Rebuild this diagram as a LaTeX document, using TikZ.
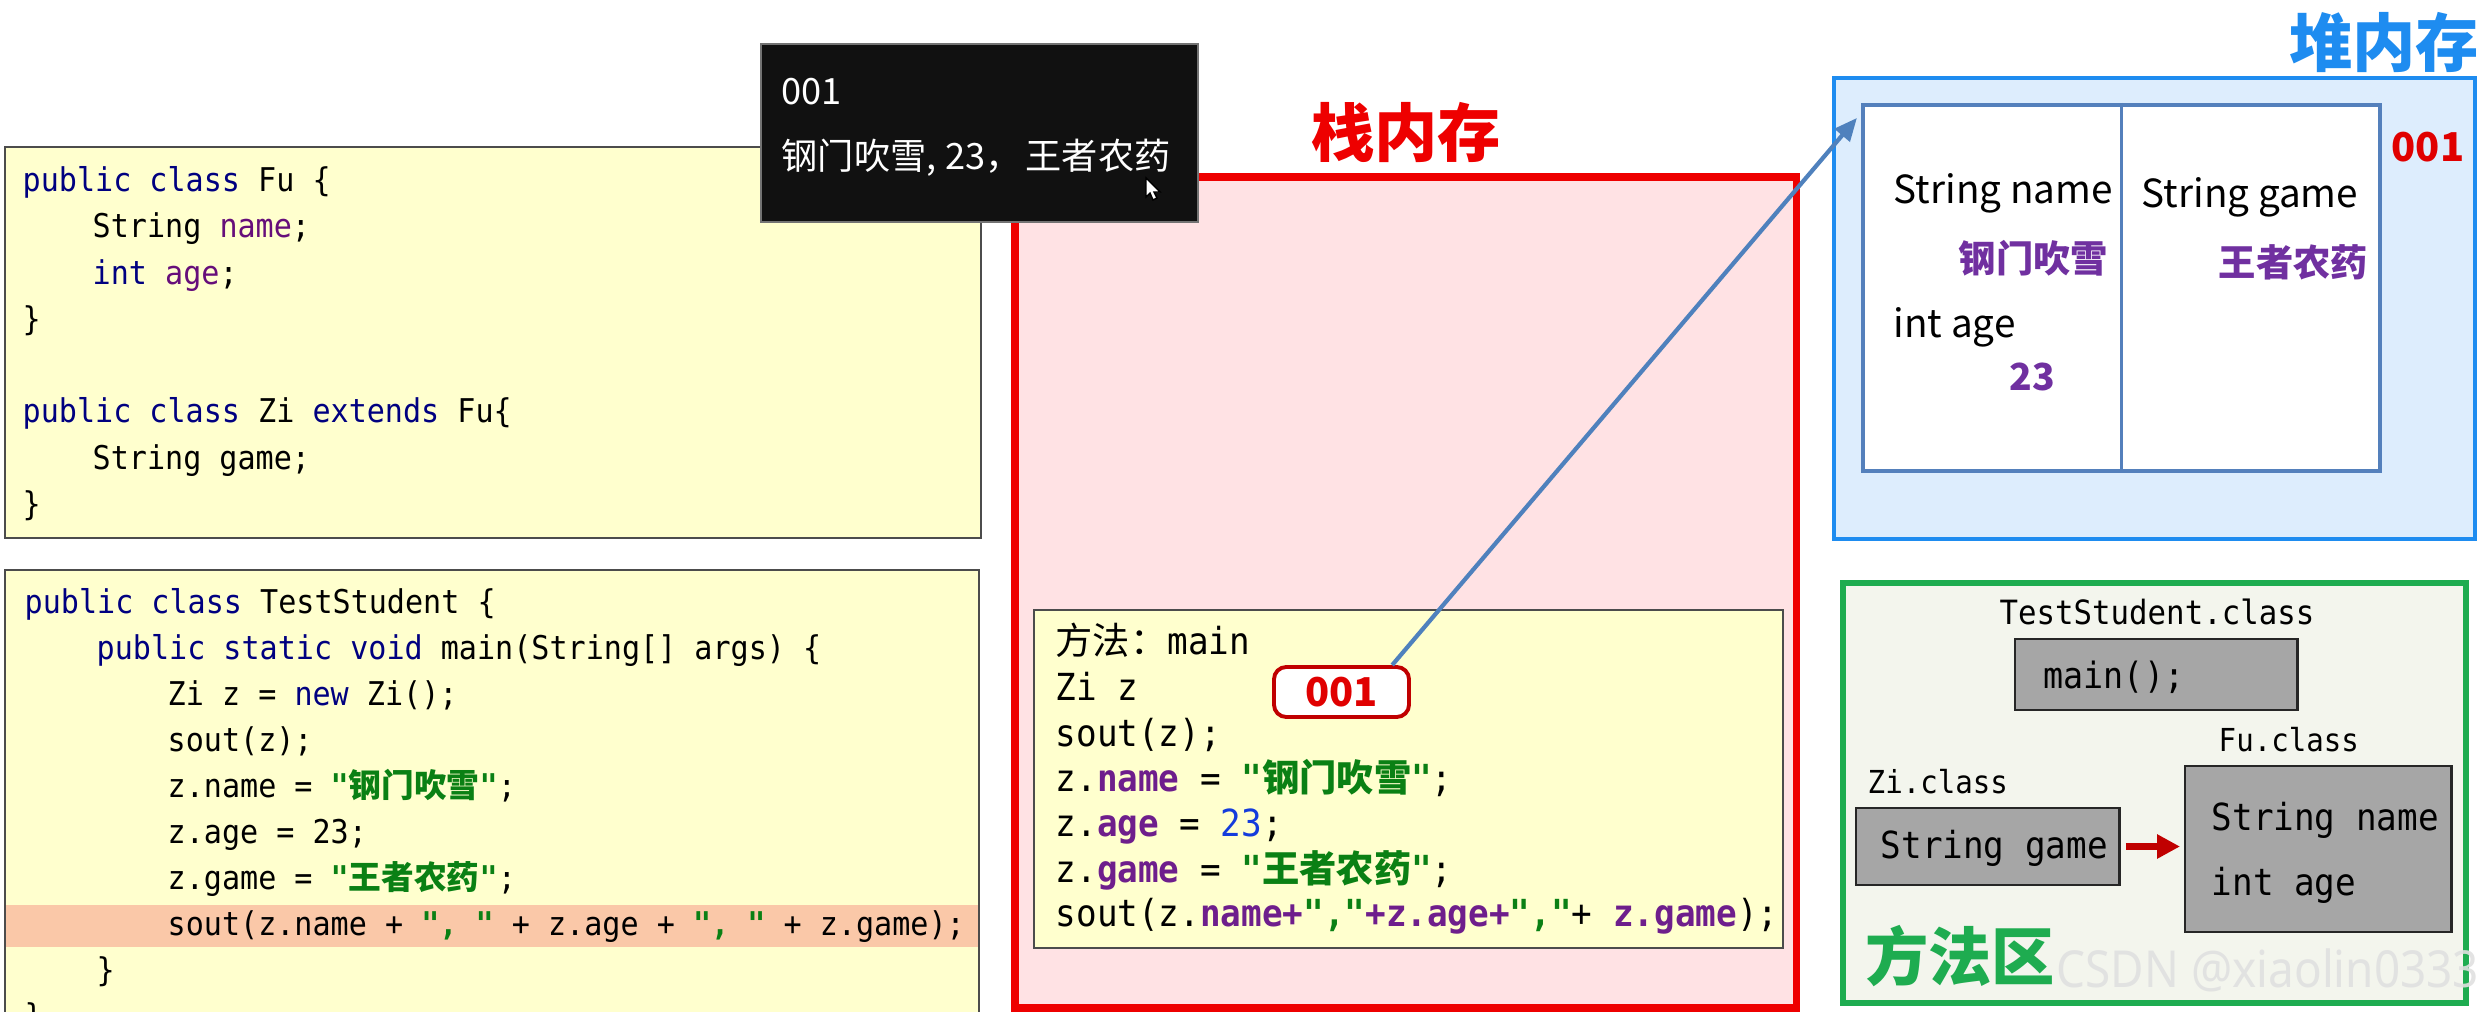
\documentclass[tikz,border=0pt]{standalone}
\usepackage{fontspec}
\usepackage{tikz}
\usetikzlibrary{arrows.meta}
\usetikzlibrary{positioning}
\newfontfamily\cjk{Noto Sans CJK SC}
\newfontfamily\codefont[FakeStretch=0.92]{DejaVu Sans Mono}
\newfontfamily\wmfont[FakeStretch=0.9]{Noto Sans}
\definecolor{codebg}{RGB}{255,255,206}
\definecolor{hlorange}{RGB}{250,200,168}
\definecolor{kwblue}{RGB}{0,0,128}
\definecolor{fldpurple}{RGB}{102,14,122}
\definecolor{fldbright}{RGB}{110,30,140}
\definecolor{strgreen}{RGB}{10,128,20}
\definecolor{numblue}{RGB}{20,60,220}
\definecolor{stackred}{RGB}{238,0,0}
\definecolor{stackbg}{RGB}{255,226,228}
\definecolor{heapblue}{RGB}{30,140,240}
\definecolor{heapbg}{RGB}{221,237,253}
\definecolor{objblue}{RGB}{84,128,188}
\definecolor{refblue}{RGB}{79,129,189}
\definecolor{methgreen}{RGB}{30,172,80}
\definecolor{methbg}{RGB}{243,245,237}
\definecolor{valpurple}{RGB}{112,48,160}
\definecolor{addrred}{RGB}{224,0,0}
\definecolor{arrowred}{RGB}{192,0,0}
\definecolor{boxgray}{RGB}{166,166,166}
\definecolor{tipblack}{RGB}{17,17,17}
\newcommand\jkw[1]{\textcolor{kwblue}{#1}}
\newcommand\jfld[1]{\textcolor{fldpurple}{#1}}
\newcommand\jfldb[1]{\textcolor{fldbright}{\bfseries #1}}
\newcommand\jstr[1]{\textcolor{strgreen}{\bfseries #1}}
\newcommand\jnum[1]{\textcolor{numblue}{#1}}
\tikzset{codeline/.style = {anchor=base west, inner sep=0,
                            font=\codefont\fontsize{9.3}{11}\selectfont}}
\tikzset{stackcode/.style = {anchor=base west, inner sep=0,
                             font=\codefont\fontsize{10.6}{12}\selectfont}}
\tikzset{codebox/.style = {fill=codebg, draw=black!70, line width=0.8pt}}
\tikzset{memtitle/.style = {inner sep=0, font=\cjk\bfseries\fontsize{18}{20}\selectfont}}
\tikzset{stackmem/.style = {fill=stackbg, draw=stackred, line width=2pt}}
\tikzset{heapmem/.style = {fill=heapbg, draw=heapblue, line width=1.4pt}}
\tikzset{methmem/.style = {fill=methbg, draw=methgreen, line width=1.5pt}}
\tikzset{objbox/.style = {fill=white, draw=objblue, line width=1.1pt}}
\tikzset{heaptext/.style = {anchor=west, inner sep=0, font=\cjk\fontsize{11}{13}\selectfont}}
\tikzset{heapval/.style = {anchor=west, inner sep=0, text=valpurple,
                           font=\cjk\bfseries\fontsize{10.6}{12}\selectfont}}
\tikzset{addr/.style = {text=addrred, inner sep=0, font=\cjk\bfseries\fontsize{11.3}{13}\selectfont}}
\tikzset{addrbox/.style = {addr, fill=white, draw=arrowred, line width=1.1pt,
                           rounded corners=3.5pt, minimum width=1.35cm, minimum height=0.5cm}}
\tikzset{graybox/.style = {fill=boxgray, draw=black!85, line width=0.8pt}}
\tikzset{fieldtext/.style = {anchor=west, inner sep=0, font=\codefont\fontsize{10.6}{13}\selectfont}}
\tikzset{classname/.style = {anchor=west, inner sep=0, font=\codefont\fontsize{9}{11}\selectfont}}
\tikzset{tiptext/.style = {anchor=west, inner sep=0, text=white, font=\cjk\fontsize{10.3}{12}\selectfont}}
\tikzset{refarrow/.style = {draw=refblue, line width=1.2pt, -{Triangle[length=6.5pt, width=5.5pt]}}}
\tikzset{extarrow/.style = {draw=arrowred, line width=2pt, -{Triangle[length=6.5pt, width=6.5pt]}}}

\begin{document}
\begin{tikzpicture}[x=0.01cm, y=-0.01cm]
  \useasboundingbox (0, 0) rectangle (2484, 1012);
  \fill [white] (0, 0) rectangle (2484, 1012);

  \draw [codebox] (5, 147) rectangle (981, 538);
  \node [codeline] (fu1) at (22, 191) {\jkw{public class} Fu \{};
  \node [codeline] (fu2) at (92, 237) {String \jfld{name};};
  \node [codeline] (fu3) at (92, 284) {\jkw{int} \jfld{age};};
  \node [codeline] (fu4) at (22, 330) {\}};
  \node [codeline] (zi1) at (22, 422) {\jkw{public class} Zi \jkw{extends} Fu\{};
  \node [codeline] (zi2) at (92, 469) {String game;};
  \node [codeline] (zi3) at (22, 515) {\}};

  \fill [codebg] (5, 570) rectangle (979, 1030);
  \fill [hlorange] (5, 905) rectangle (979, 947);
  \draw [black!70, line width=0.8pt] (5, 1030) -- (5, 570) -- (979, 570) -- (979, 1030);
  \node [codeline] (ts1) at (24, 613) {\jkw{public class} TestStudent \{};
  \node [codeline] (ts2) at (96, 659) {\jkw{public static void} main(String[] args) \{};
  \node [codeline] (ts3) at (167, 705) {Zi z = \jkw{new} Zi();};
  \node [codeline] (ts4) at (167, 751) {sout(z);};
  \node [codeline] (ts5) at (167, 797) {z.name = \jstr{"{\cjk 钢门吹雪}"};};
  \node [codeline] (ts6) at (167, 843) {z.age = 23;};
  \node [codeline] (ts7) at (167, 889) {z.game = \jstr{"{\cjk 王者农药}"};};
  \node [codeline] (ts8) at (167, 935) {sout(z.name + \jstr{", "} + z.age + \jstr{", "} + z.game);};
  \node [codeline] (ts9) at (96, 981) {\}};
  \node [codeline] (ts10) at (24, 1027) {\}};

  \draw [stackmem] (1015, 177) rectangle (1796, 1008);
  \node [memtitle, text=stackred] (stacktitle) at (1406, 132) {栈内存};
  \draw [codebox] (1034, 610) rectangle (1783, 948);
  \node [stackcode] (m1) at (1055, 654) {{\cjk 方法：}main};
  \node [stackcode] (m2) at (1055, 700) {Zi z};
  \node [stackcode] (m3) at (1055, 746) {sout(z);};
  \node [stackcode] (m4) at (1055, 791) {z.\jfldb{name} = \jstr{"{\cjk 钢门吹雪}"};};
  \node [stackcode] (m5) at (1055, 836) {z.\jfldb{age} = \jnum{23};};
  \node [stackcode] (m6) at (1055, 882) {z.\jfldb{game} = \jstr{"{\cjk 王者农药}"};};
  \node [stackcode] (m7) at (1055, 926) {sout(z.\jfldb{name+}\jstr{","}\jfldb{+z.age+}\jstr{","}+ \jfldb{z.game});};
  \node [addrbox] (ref001) at (1341.5, 692) {001};

  \draw [heapmem] (1834, 78) rectangle (2475, 539);
  \node [memtitle, text=heapblue] (heaptitle) at (2384, 42) {堆内存};
  \node [objbox, minimum width=5.17cm, minimum height=3.66cm] (obj) at (2121.5, 288) {};
  \draw [objblue, line width=1.1pt] (obj.north) -- (obj.south);
  \node [heaptext] (hname) at (1893, 193) {String name};
  \node [heapval] (hnameval) at (1958, 258) {钢门吹雪};
  \node [heaptext] (hage) at (1893, 327) {int age};
  \node [heapval] (hageval) at (2009, 377) {23};
  \node [heaptext] (hgame) at (2141, 197) {String game};
  \node [heapval] (hgameval) at (2218, 262) {王者农药};
  \node [addr] (heap001) at (2428, 147) {001};

  \draw [methmem] (1843, 583) rectangle (2466, 1003);
  \node [classname, font=\codefont\fontsize{9.5}{11}\selectfont] (tsclass) at (1999, 612) {TestStudent.class};
  \node [graybox, minimum width=2.82cm, minimum height=0.71cm] (mainbox) at (2156, 674.5) {};
  \node [fieldtext, font=\codefont\fontsize{10.3}{12}\selectfont] (mainm) at (2043, 677) {main();};
  \node [classname] (fuclass) at (2218, 740) {Fu.class};
  \node [graybox, minimum width=2.66cm, minimum height=1.66cm] (fubox) at (2318, 849) {};
  \node [fieldtext] (funame) at (2211, 820) {String name};
  \node [fieldtext] (fuage) at (2211, 885) {int age};
  \node [classname] (ziclass) at (1867, 782) {Zi.class};
  \node [graybox, minimum width=2.63cm, minimum height=0.77cm] (zibox) at (1987.5, 846.5) {};
  \node [fieldtext] (zigame) at (1880, 848) {String game};
  \node [memtitle, text=methgreen] (methtitle) at (1960, 956) {方法区};

  \draw [extarrow, shorten <=1.5pt, shorten >=1pt] (zibox.east) -- (zibox.east -| fubox.west);
  \draw [refarrow] (ref001.28) -- ([shift={(-4, 15)}]obj.north west);

  \node [fill=tipblack, draw=black!55, line width=0.4pt, minimum width=4.37cm, minimum height=1.78cm] (tip) at (979.5, 133) {};
  \node [tiptext] (tipaddr) at (781, 92) {001};
  \node [tiptext] (tipval) at (781, 158) {钢门吹雪,\hspace{0.25em}23，\hspace{0.1em}王者农药};
  \draw [fill=white, draw=black, line width=0.4pt] (1146, 178) -- (1146, 197) -- (1150, 193) -- (1153, 200)
        -- (1157, 198) -- (1154, 192) -- (1160, 192) -- cycle;

  \node [anchor=west, inner sep=0, text=black!12, opacity=0.9,
         font=\wmfont\fontsize{14.5}{16}\selectfont] (wm) at (2056, 970) {CSDN @xiaolin0333};
\end{tikzpicture}
\end{document}
